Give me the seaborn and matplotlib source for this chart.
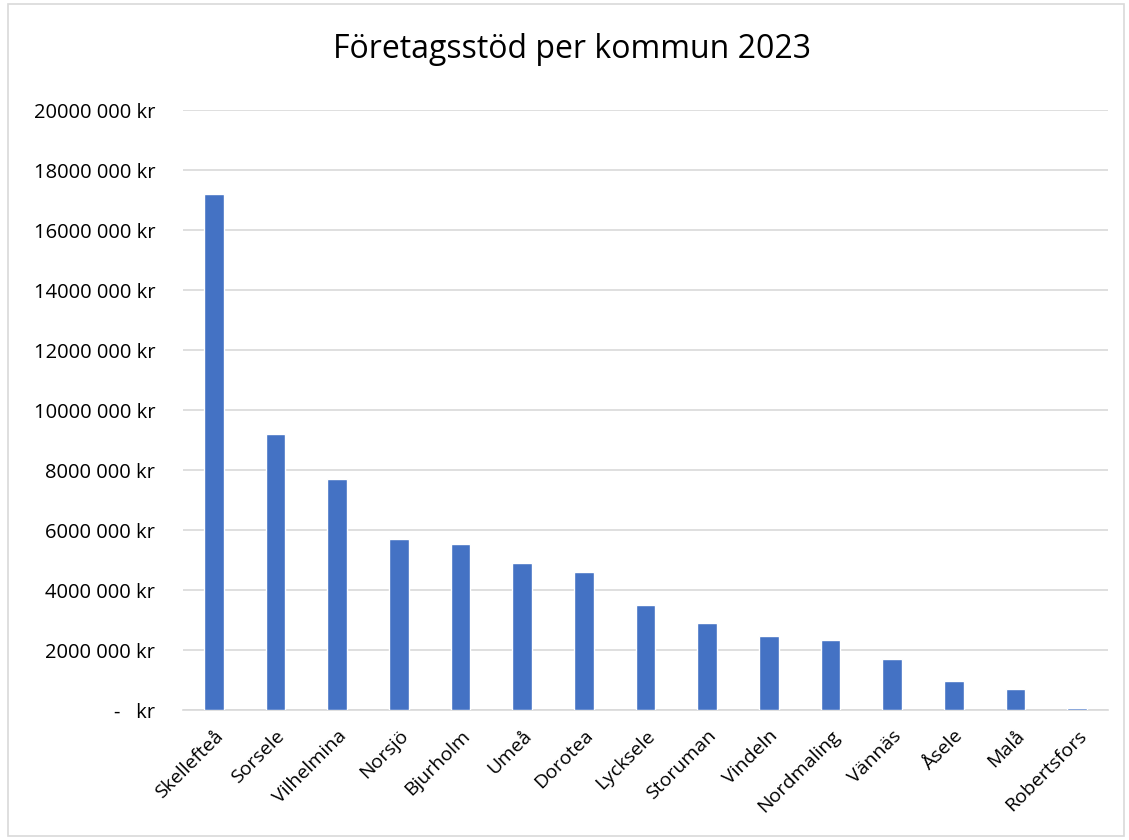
import numpy as np
import pandas as pd
import seaborn as sns
import matplotlib.pyplot as plt
from matplotlib.patches import Rectangle
from matplotlib.ticker import FuncFormatter, MultipleLocator

kommuner = ["Skellefteå", "Sorsele", "Vilhelmina", "Norsjö", "Bjurholm", "Umeå",
            "Dorotea", "Lycksele", "Storuman", "Vindeln", "Nordmaling", "Vännäs",
            "Åsele", "Malå", "Robertsfors"]
stod = [17210000, 9200000, 7700000, 5690000, 5520000, 4890000,
        4610000, 3490000, 2890000, 2460000, 2330000, 1700000,
        970000, 700000, 60000]

df = pd.DataFrame({"kommun": kommuner, "stod": stod})

sns.set_style("white")
plt.rcParams["font.family"] = ["Open Sans", "DejaVu Sans"]
plt.rcParams["text.color"] = "black"

fig = plt.figure(figsize=(11.29, 8.40), dpi=100)
ax = fig.add_axes([183 / 1129, 1 - 710 / 840, (1108 - 183) / 1129, (710 - 110) / 840])

sns.barplot(data=df, x="kommun", y="stod", color="#4472C4", width=0.32,
            saturation=1, ax=ax, zorder=3)

ax.set_ylim(0, 20000000)
ax.set_xlim(-0.5, len(kommuner) - 0.5)
ax.yaxis.set_major_locator(MultipleLocator(2000000))


def kr(v, pos):
    if v == 0:
        return "-   kr"
    return f"{int(round(v / 1000))} 000 kr"


ax.yaxis.set_major_formatter(FuncFormatter(kr))
ax.grid(axis="y", color="#d9d9d9", linewidth=1.2, zorder=0)
ax.set_axisbelow(True)

for s in ["top", "right", "left"]:
    ax.spines[s].set_visible(False)
ax.spines["bottom"].set_color("#d9d9d9")
ax.spines["bottom"].set_linewidth(1.2)
ax.tick_params(axis="both", length=0, labelsize=14, colors="#000000")
ax.tick_params(axis="y", labelsize=14.5, pad=20)
ax.tick_params(axis="x", pad=12)
plt.setp(ax.get_xticklabels(), rotation=45, ha="right", rotation_mode="anchor")

ax.set_xlabel("")
ax.set_ylabel("")
fig.text(572 / 1129, 1 - 50 / 840, "Företagsstöd per kommun 2023",
         ha="center", va="center", fontsize=23, color="black")

fig.patches.append(Rectangle((8 / 1129, 4 / 840), 1116 / 1129, 832 / 840,
                             transform=fig.transFigure, fill=False,
                             edgecolor="#d9d9d9", linewidth=1.2))

fig.savefig("out.png", dpi=100)
